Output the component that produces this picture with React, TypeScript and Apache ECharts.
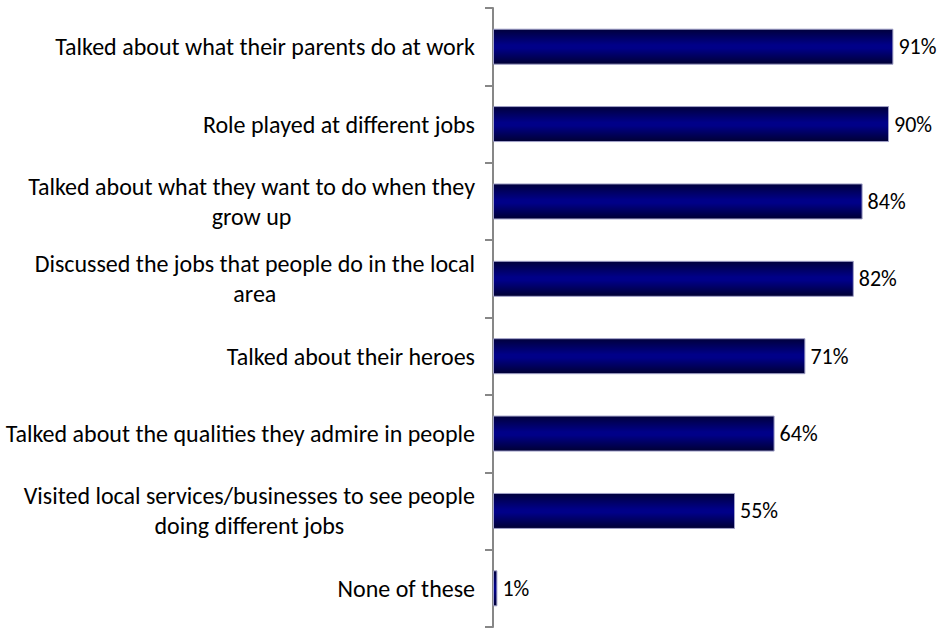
import React, { useEffect, useRef } from "react";
import * as echarts from "echarts";

const categories = [
  "Talked about what their parents do at work",
  "Role played at different jobs",
  "Talked about what they want to do when they\ngrow up",
  "Discussed the jobs that people do in the local\narea",
  "Talked about their heroes",
  "Talked about the qualities they admire in people",
  "Visited local services/businesses to see people\ndoing different jobs",
  "None of these",
];
const values = [91, 90, 84, 82, 71, 64, 55, 1];

const FONT = "Carlito, Lato, 'Liberation Sans', sans-serif";

export default function App() {
  const ref = useRef<HTMLDivElement>(null);
  useEffect(() => {
    if (!ref.current) return;
    const chart = echarts.init(ref.current, undefined, { renderer: "svg" });
    chart.setOption({
      animation: false,
      grid: { left: 493, right: 14, top: 8, bottom: 1, containLabel: false },
      xAxis: {
        type: "value",
        min: 0,
        max: 100,
        show: false,
      },
      yAxis: {
        type: "category",
        inverse: true,
        data: categories,
        axisLine: { show: true, lineStyle: { color: "#878787", width: 2 } },
        axisTick: { show: true, length: 8, lineStyle: { color: "#878787", width: 2 } },
        axisLabel: {
          margin: 18,
          formatter: (v: string) => "{c|" + v + "}",
          rich: {
            c: {
              align: "center",
              fontFamily: FONT,
              fontSize: 24,
              fontWeight: 300,
              lineHeight: 30,
              color: "#000000",
            },
          },
        },
        splitLine: { show: false },
      },
      series: [
        {
          type: "bar",
          data: values,
          barWidth: 36,
          itemStyle: {
            color: new echarts.graphic.LinearGradient(0, 0, 0, 1, [
              { offset: 0, color: "#00003c" },
              { offset: 0.45, color: "#000088" },
              { offset: 0.55, color: "#000088" },
              { offset: 1, color: "#000034" },
            ]),
            borderColor: "#a0a0c8",
            borderWidth: 1,
          },
          label: {
            show: true,
            position: "right",
            distance: 5,
            formatter: "{c}%",
            fontFamily: FONT,
            fontSize: 22,
            fontWeight: 300,
            color: "#000000",
          },
        },
      ],
    });
    return () => chart.dispose();
  }, []);
  return <div ref={ref} style={{ width: 947, height: 628, position: "absolute", left: 0, top: 0 }} />;
}
